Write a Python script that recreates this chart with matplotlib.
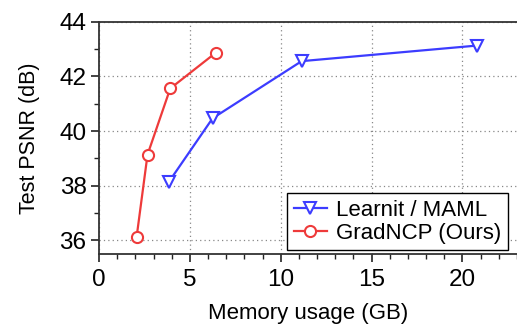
import numpy as np
import matplotlib
matplotlib.use('Agg')
import matplotlib.pyplot as plt
from matplotlib.ticker import MultipleLocator

plt.rcParams['font.family'] = ['Liberation Sans', 'DejaVu Sans']

# Learnit / MAML
mem_maml = [3.85, 6.25, 11.15, 20.8]
psnr_maml = [38.15, 40.47, 42.56, 43.13]
# GradNCP (Ours)
mem_ours = [2.07, 2.67, 3.92, 6.43]
psnr_ours = [36.13, 39.14, 41.56, 42.87]

fig = plt.figure(figsize=(5.17, 3.25), dpi=100)
ax = fig.add_axes([0.1915, 0.218, 0.8085, 0.715])

ax.plot(mem_maml, psnr_maml, '-v', color='#3c3cff', lw=1.6, ms=9,
        mfc='white', mew=1.5, label='Learnit / MAML')
ax.plot(mem_ours, psnr_ours, '-o', color='#ee3a3a', lw=1.6, ms=8,
        mfc='white', mew=1.5, label='GradNCP (Ours)')

ax.set_xlim(0, 23)
ax.set_ylim(35.5, 44)
ax.set_xticks([0, 5, 10, 15, 20])
ax.set_yticks([36, 38, 40, 42, 44])
ax.xaxis.set_minor_locator(MultipleLocator(1))
ax.yaxis.set_minor_locator(MultipleLocator(1))
ax.tick_params(which='major', direction='out', length=6, width=1.2, labelsize=17.5, colors='#222222')
ax.tick_params(which='minor', direction='out', length=3.5, width=1.0, colors='#222222')
ax.tick_params(labelcolor='black')
ax.tick_params(axis='x', pad=5)
ax.tick_params(axis='y', pad=3)
ax.grid(True, which='major', linestyle=(0, (1, 2.5)), color='#888888', lw=0.9)
ax.spines['right'].set_visible(False)
for s in ['left', 'bottom', 'top']:
    ax.spines[s].set_linewidth(1.3)
    ax.spines[s].set_color('#333333')

ax.set_xlabel('Memory usage (GB)', fontsize=16, labelpad=8)
ax.set_ylabel('Test PSNR (dB)', fontsize=15.5, labelpad=14)

leg = ax.legend(loc='lower right', bbox_to_anchor=(0.978, 0.017), fontsize=16,
                fancybox=False, framealpha=1, edgecolor='black', borderpad=0.3,
                labelspacing=0.08, handlelength=1.5, handletextpad=0.4,
                borderaxespad=0)
leg.get_frame().set_linewidth(1.0)

fig.savefig('out.png', dpi=100)
